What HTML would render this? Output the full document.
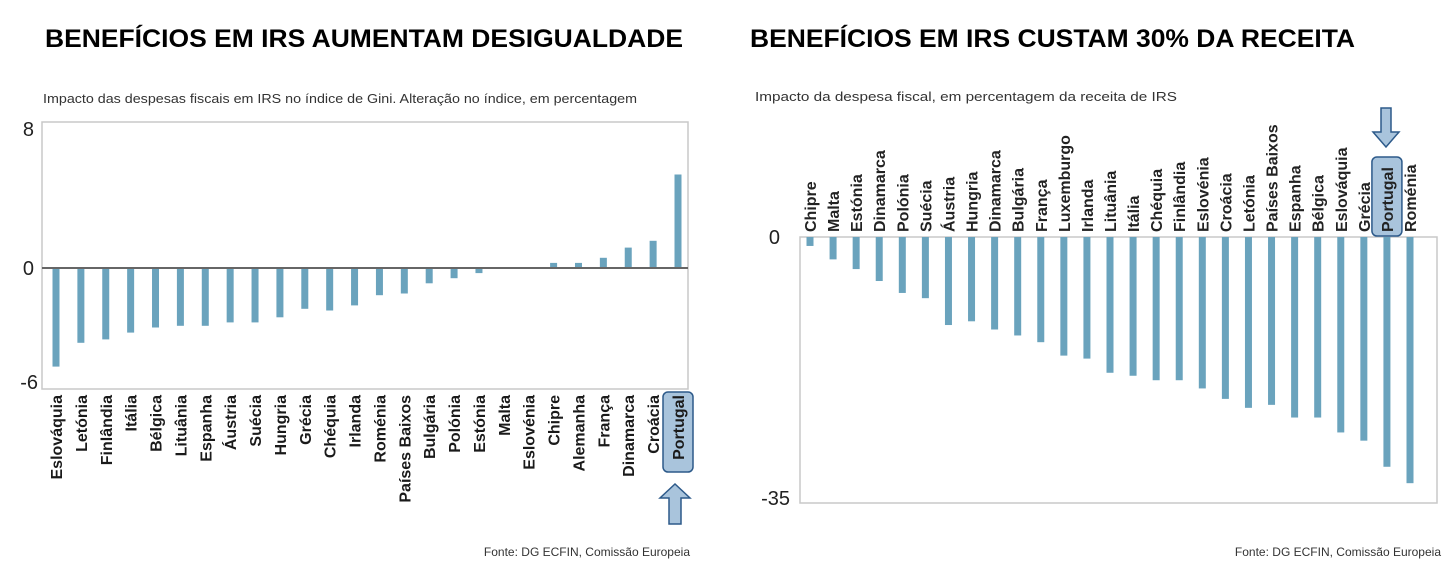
<!DOCTYPE html>
<html><head><meta charset="utf-8">
<style>
html,body{margin:0;padding:0;background:#fff;}
svg{display:block;font-family:"Liberation Sans","DejaVu Sans",sans-serif;}
</style></head>
<body>
<svg id="root" width="1456" height="585" viewBox="0 0 1456 585">
  <text x="45" y="47" font-size="25" font-weight="bold" fill="#000" textLength="638" lengthAdjust="spacingAndGlyphs">BENEFÍCIOS EM IRS AUMENTAM DESIGUALDADE</text>
  <text x="750" y="47" font-size="25" font-weight="bold" fill="#000" textLength="605" lengthAdjust="spacingAndGlyphs">BENEFÍCIOS EM IRS CUSTAM 30% DA RECEITA</text>
  <text x="43" y="103" font-size="12.5" fill="#333" textLength="594" lengthAdjust="spacingAndGlyphs">Impacto das despesas fiscais em IRS no índice de Gini. Alteração no índice, em percentagem</text>
  <text x="755" y="101" font-size="12.5" fill="#333" textLength="422" lengthAdjust="spacingAndGlyphs">Impacto da despesa fiscal, em percentagem da receita de IRS</text>
  <text x="690" y="556" font-size="12" fill="#333" text-anchor="end">Fonte: DG ECFIN, Comissão Europeia</text>
  <text x="1441" y="556" font-size="12" fill="#333" text-anchor="end">Fonte: DG ECFIN, Comissão Europeia</text>

  <g id="left"></g>
  <g id="right"></g>

  <polygon points="669,524 681,524 681,498 690,498 675,484 660,498 669,498" fill="#a9c4dc" stroke="#2d5a8a" stroke-width="1.5"/>
  <polygon points="1381,108 1391,108 1391,132 1399,132 1386,147 1373,132 1381,132" fill="#a9c4dc" stroke="#2d5a8a" stroke-width="1.5"/>
</svg>
<script>
const NS = "http://www.w3.org/2000/svg";
const leftCategories = ["Eslováquia","Letónia","Finlândia","Itália","Bélgica","Lituânia","Espanha","Áustria","Suécia","Hungria","Grécia","Chéquia","Irlanda","Roménia","Países Baixos","Bulgária","Polónia","Estónia","Malta","Eslovénia","Chipre","Alemanha","França","Dinamarca","Croácia","Portugal"];
const leftValues = [-5.8,-4.4,-4.2,-3.8,-3.5,-3.4,-3.4,-3.2,-3.2,-2.9,-2.4,-2.5,-2.2,-1.6,-1.5,-0.9,-0.6,-0.3,0,0,0.3,0.3,0.6,1.2,1.6,5.5];
const leftTicks = [8,0,-6];
const rightCategories = ["Chipre","Malta","Estónia","Dinamarca","Polónia","Suécia","Áustria","Hungria","Dinamarca","Bulgária","França","Luxemburgo","Irlanda","Lituânia","Itália","Chéquia","Finlândia","Eslovénia","Croácia","Letónia","Países Baixos","Espanha","Bélgica","Eslováquia","Grécia","Portugal","Roménia"];
const rightValues = [-1.2,-3.0,-4.3,-5.9,-7.5,-8.2,-11.8,-11.3,-12.4,-13.2,-14.1,-15.9,-16.3,-18.2,-18.6,-19.2,-19.2,-20.3,-21.7,-22.9,-22.5,-24.2,-24.2,-26.2,-27.3,-30.8,-33.0];
const rightTicks = [0,-35];
const BAR = "#6aa3bd";

function mk(tag, attrs, parent){
  const e = document.createElementNS(NS, tag);
  for (const k in attrs) e.setAttribute(k, attrs[k]);
  parent.appendChild(e);
  return e;
}

// Left chart
(function(){
  const g = document.getElementById('left');
  const y = v => 268 - v*17;
  const x = i => 56 + i*(678-56)/(leftCategories.length-1);
  const box = mk('rect',{x:42,y:122,width:646,height:267,fill:'none',stroke:'#c8c8c8','stroke-width':1.5},g);
  
  
  leftTicks.forEach(t=>{
    const ty = t < 0 ? y(t) + 12 : (t > 0 ? y(t) - 3 : y(t));
    const tx = mk('text',{x:t<0?38:34,y:ty+7,'font-size':20,'text-anchor':'end',fill:'#222'},g);
    tx.textContent = t;
    
    
  });
  leftValues.forEach((v,i)=>{
    const y0 = y(0), y1 = y(v);
    const r = mk('rect',{x:x(i)-3.5,y:Math.min(y0,y1),width:7,height:Math.abs(y1-y0),fill:BAR},g);
    
    
  });
  const zl = mk('line',{x1:42,x2:688,y1:y(0),y2:y(0),stroke:'#666','stroke-width':2},g);
  
  
  leftCategories.forEach((c,i)=>{
    if (c==='Portugal'){
      const b = mk('rect',{x:x(i)-15,y:392,width:30,height:80,rx:5,fill:'#a9c4dc',stroke:'#2d5a8a','stroke-width':1.5},g);
      
      
    }
    const t = mk('text',{x:0,y:0,'font-size':16,'font-weight':'bold','text-anchor':'end',fill:'#1a1a1a',transform:`translate(${x(i)+6},395) rotate(-90)`},g);
    t.textContent = c;
    
    
  });
})();

// Right chart
(function(){
  const g = document.getElementById('right');
  const y = v => 237 - v*7.46;
  const x = i => 810 + i*(1410-810)/(rightCategories.length-1);
  const box = mk('rect',{x:800,y:237,width:637,height:266,fill:'none',stroke:'#c8c8c8','stroke-width':1.5},g);
  
  
  rightTicks.forEach(t=>{
    const tx = mk('text',{x:t<0?790:780,y:y(t)+7,'font-size':20,'text-anchor':'end',fill:'#222'},g);
    tx.textContent = t;
    
    
  });
  rightValues.forEach((v,i)=>{
    const y0 = y(0), y1 = y(v);
    const r = mk('rect',{x:x(i)-3.5,y:Math.min(y0,y1),width:7,height:Math.abs(y1-y0),fill:BAR},g);
    
    
  });
  rightCategories.forEach((c,i)=>{
    if (c==='Portugal'){
      const b = mk('rect',{x:x(i)-15,y:157,width:30,height:79,rx:5,fill:'#a9c4dc',stroke:'#2d5a8a','stroke-width':1.5},g);
      
      
    }
    const t = mk('text',{x:0,y:0,'font-size':16,'font-weight':'bold','text-anchor':'start',fill:'#222',transform:`translate(${x(i)+6},232) rotate(-90)`},g);
    t.textContent = c;
    
    
  });
})();
</script>
</body></html>
